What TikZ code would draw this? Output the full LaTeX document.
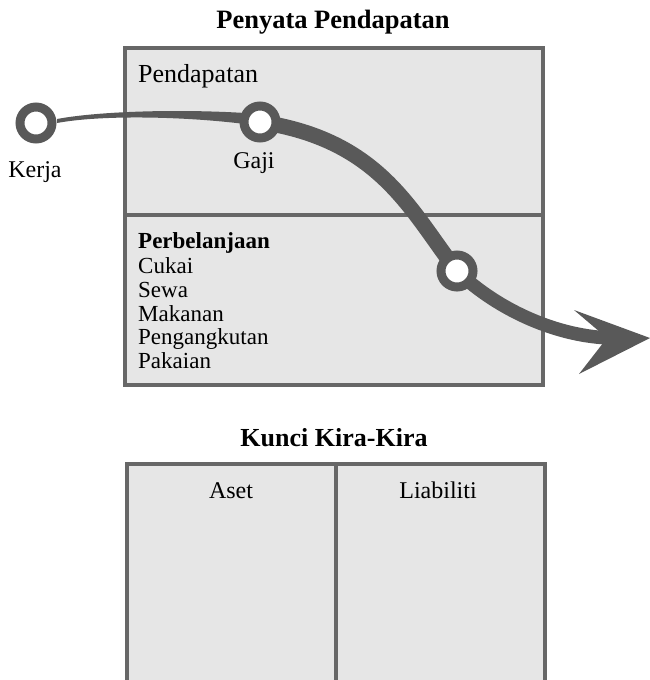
\documentclass[tikz,border=0pt]{standalone}
\usepackage{fontspec}
\setmainfont{Liberation Serif}
\usetikzlibrary{calc}
\definecolor{panelfill}{HTML}{E6E6E6}
\definecolor{panelline}{HTML}{676767}
\definecolor{flowgray}{HTML}{595959}
\tikzset{
  panel/.style={draw=panelline, line width=4pt, fill=panelfill},
  divider/.style={draw=panelline, line width=4pt},
  ring/.style={circle, draw=flowgray, fill=white, line width=9pt, minimum size=32pt, inner sep=0pt},
  title/.style={font=\fontsize{26.5}{28}\selectfont\bfseries, anchor=base},
  label/.style={font=\fontsize{24}{26}\selectfont, anchor=base},
  heading/.style={font=\fontsize{26}{28}\selectfont, anchor=base west, inner sep=0pt},
  item/.style={font=\fontsize{23}{25}\selectfont, anchor=base west, inner sep=0pt},
}
\begin{document}
\begin{tikzpicture}[x=1pt, y=-1pt]
\useasboundingbox (0,0) rectangle (650,680);

% Income statement panel
\node[title] (t1) at (333,28) {Penyata Pendapatan};
\draw[panel] (125,48) rectangle (543,385);
\draw[divider] (125,215) -- (543,215);
\node[heading] (inc) at (138,82) {Pendapatan};
\node[heading, font=\fontsize{23}{25}\selectfont\bfseries] (exp) at (138,248) {Perbelanjaan};
\node[item] (i1) at (138,273) {Cukai};
\node[item] (i2) at (138,297) {Sewa};
\node[item] (i3) at (138,321) {Makanan};
\node[item] (i4) at (138,344) {Pengangkutan};
\node[item] (i5) at (138,368) {Pakaian};

% Balance sheet panel
\node[title, font=\fontsize{26}{28}\selectfont\bfseries] (t2) at (334,446) {Kunci Kira-Kira};
\draw[panel] (127,464) rectangle (545,700);
\draw[divider] (336,464) -- (336,700);
\node[label] (as) at (231,498) {Aset};
\node[label] (li) at (438,498) {Liabiliti};

% Flow of money
\coordinate (kerja) at (36,123);
\coordinate (gaji) at (260,122);
\coordinate (spend) at (457,271);
\coordinate (shaftend) at (612,338);
\coordinate (tip) at (650,338);

% tapering first stretch
\fill[flowgray] ($(kerja)+(21,-4)$) .. controls (100,111) and (180,109) .. ($(gaji)+(-15,-9)$)
  -- ($(gaji)+(-15,2)$) .. controls (180,116) and (100,115) .. ($(kerja)+(21,0)$) -- cycle;
% main stretch
\draw[flowgray, line width=15.5pt] (gaji) .. controls +(120,18) and +(-47,-61) .. (spend);
\draw[flowgray, line width=13.5pt] (spend) .. controls +(43,41) and +(-52,-1) .. (shaftend);
% arrow head
\fill[flowgray] (tip) -- (574,310) -- (607,338) -- (579,374) -- cycle;

\node[ring] (n1) at (kerja) {};
\node[ring] (n2) at (gaji) {};
\node[ring] (n3) at (spend) {};
\node[label] (kl) at (35,177) {Kerja};
\node[label] (gl) at (254,168) {Gaji};
\end{tikzpicture}
\end{document}
